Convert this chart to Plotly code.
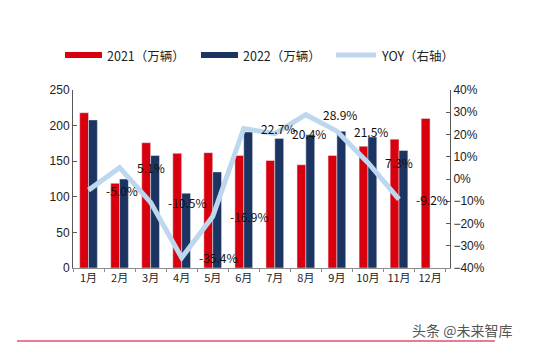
import plotly.graph_objects as go

months = ["1月", "2月", "3月", "4月", "5月", "6月", "7月", "8月", "9月", "10月", "11月", "12月"]
sales_2021 = [218, 119, 176, 161, 162, 158, 151, 145, 158, 171, 181, 210]
sales_2022 = [208, 125, 158, 105, 135, 191, 182, 187, 192, 184, 165, None]
yoy = [-5.0, 5.1, -10.5, -35.4, -16.9, 22.7, 20.4, 28.9, 21.5, 7.3, -9.2, None]
yoy_labels = ["-5.0%", "5.1%", "-10.5%", "-35.4%", "-16.9%", "22.7%", "20.4%", "28.9%", "21.5%", "7.3%", "-9.2%"]
legend_names = ["2021（万辆）", "2022（万辆）", "YOY（右轴）"]

RED = "#D9000D"
NAVY = "#1C3461"
LIGHT = "#BDD7EE"
FONT = "Liberation Sans, Noto Sans CJK SC"
CJK = "Noto Sans CJK SC"

fig = go.Figure()
fig.add_trace(go.Bar(x=months, y=sales_2021, marker_color=RED, name=legend_names[0], showlegend=False))
fig.add_trace(go.Bar(x=months, y=sales_2022, marker_color=NAVY, name=legend_names[1], showlegend=False))
fig.add_trace(go.Scatter(x=months, y=yoy, mode="lines", line=dict(color=LIGHT, width=5),
                         name=legend_names[2], yaxis="y2", showlegend=False))

for m, v, t in zip(months, yoy, yoy_labels):
    fig.add_annotation(x=m, y=v, yref="y2", text=t, showarrow=False, xanchor="left", yanchor="middle",
                       xshift=15, font=dict(family=CJK, size=12, color="#111111"))

# manual legend (paper coordinates)
legend_spec = [(RED, -0.0212, 0.0769, 6), (NAVY, 0.3395, 0.4377, 6), (LIGHT, 0.6976, 0.8037, 5)]
for (col, x0, x1, w), name in zip(legend_spec, legend_names):
    fig.add_shape(type="line", xref="paper", yref="paper", x0=x0, x1=x1, y0=1.1966, y1=1.1966,
                  line=dict(color=col, width=w))
    fig.add_annotation(xref="paper", yref="paper", x=x1 + 0.008, y=1.1966, text=name, showarrow=False,
                       xanchor="left", yanchor="middle", font=dict(family=CJK, size=12.5, color="#222222"))

fig.add_shape(type="line", xref="paper", yref="paper", x0=-0.1485, x1=1.119, y0=-0.41, y1=-0.41,
              line=dict(color="#E0506E", width=1.5))
fig.add_annotation(xref="paper", yref="paper", x=1.032, y=-0.348, text="头条 @未来智库", showarrow=False,
                   xanchor="center", yanchor="middle",
                   font=dict(family=CJK, size=14, color="#555555"))

fig.update_layout(
    width=542, height=361,
    margin=dict(l=65, r=100, t=82, b=101, autoexpand=False),
    paper_bgcolor="white", plot_bgcolor="white",
    barmode="group", bargap=0.43, bargroupgap=0,
    font=dict(family=FONT, size=12, color="#222222"),
    showlegend=False,
    xaxis=dict(type="category", showline=True, linecolor="#8C8C8C", linewidth=1, ticks="outside",
               tickson="boundaries", ticklen=3, tickcolor="#8C8C8C", tickangle=0,
               tickfont=dict(family=CJK, size=11, color="#222222"), showgrid=False),
    yaxis=dict(range=[0, 250], dtick=50, showline=True, linecolor="#595959", linewidth=1, ticks="inside",
               ticklen=4, tickcolor="#595959", showgrid=False, zeroline=False,
               tickfont=dict(family=FONT, size=12, color="#222222")),
    yaxis2=dict(range=[-40, 40], dtick=10, overlaying="y", side="right", ticksuffix="%", showline=True,
                linecolor="#595959", linewidth=1, ticks="inside", ticklen=4, tickcolor="#595959",
                showgrid=False, zeroline=False, tickfont=dict(family=FONT, size=12, color="#222222")),
)

fig.write_html("out.html")
